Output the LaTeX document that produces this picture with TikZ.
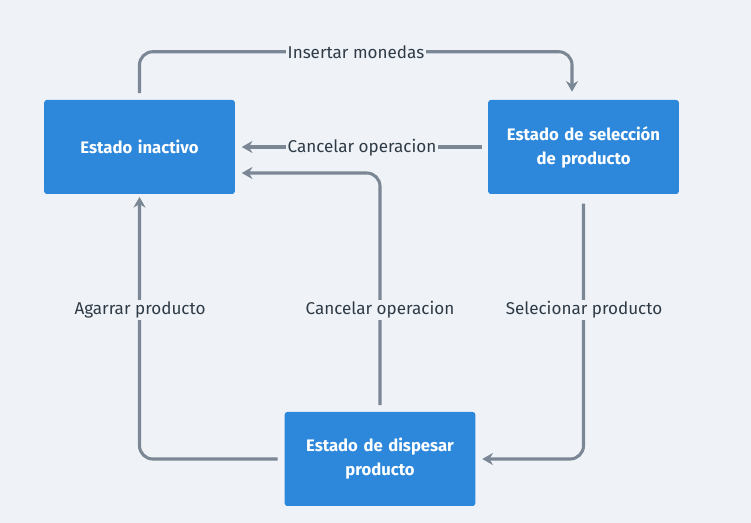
\documentclass[tikz,border=0pt]{standalone}
\usepackage{fontspec}
\setmainfont{Fira Sans}
\usetikzlibrary{arrows.meta,calc}
\definecolor{bgcol}{HTML}{EFF3F8}
\definecolor{boxcol}{HTML}{2D87DA}
\definecolor{linecol}{HTML}{7B8794}
\definecolor{txtcol}{HTML}{2E3A45}
\begin{document}
\begin{tikzpicture}[x=0.75pt,y=-0.75pt,>={Stealth[length=8pt,width=9pt]}]
  \tikzstyle{state}=[fill=boxcol, rounded corners=2pt, minimum width=143pt, minimum height=70.5pt,
    text width=135pt, align=center, text=white, font=\fontsize{12.5}{18}\selectfont\bfseries]
  \tikzstyle{link}=[draw=linecol, line width=2.3pt, rounded corners=10pt]
  \tikzstyle{tag}=[fill=bgcol, text=txtcol, inner sep=1.5pt, font=\fontsize{12.8}{15}\selectfont]

  \fill[bgcol] (0,0) rectangle (751,523);

  \node[state] (idle) at (139.5,147) {Estado inactivo};
  \node[state] (select) at (583.5,147) {Estado de selección\\de producto};
  \node[state] (dispense) at (380,459) {Estado de dispesar\\producto};

  \draw[link,->,shorten <=5pt,shorten >=6pt] (idle.north) -- ++(0,-48) -| ($(select.north)+(-11.5,0)$);
  \draw[link,->,shorten <=4.5pt,shorten >=5pt] (select.west) -- (idle.east);
  \draw[link,->,shorten <=5pt,shorten >=5pt] (dispense.north) |- ($(idle.east)+(0,26)$);
  \draw[link,->,shorten <=7pt,shorten >=5pt] (select.south) |- (dispense.east);
  \draw[link,->,shorten <=5pt,shorten >=2pt] (dispense.west) -| (idle.south);

  \node[tag] (coins) at (356,52) {Insertar monedas};
  \node[tag] (cancel1) at (362,148) {Cancelar operacion};
  \node[tag] (cancel2) at (380,310) {Cancelar operacion};
  \node[tag] (pick) at (584,310) {Selecionar producto};
  \node[tag] (grab) at (140,310) {Agarrar producto};
\end{tikzpicture}
\end{document}
